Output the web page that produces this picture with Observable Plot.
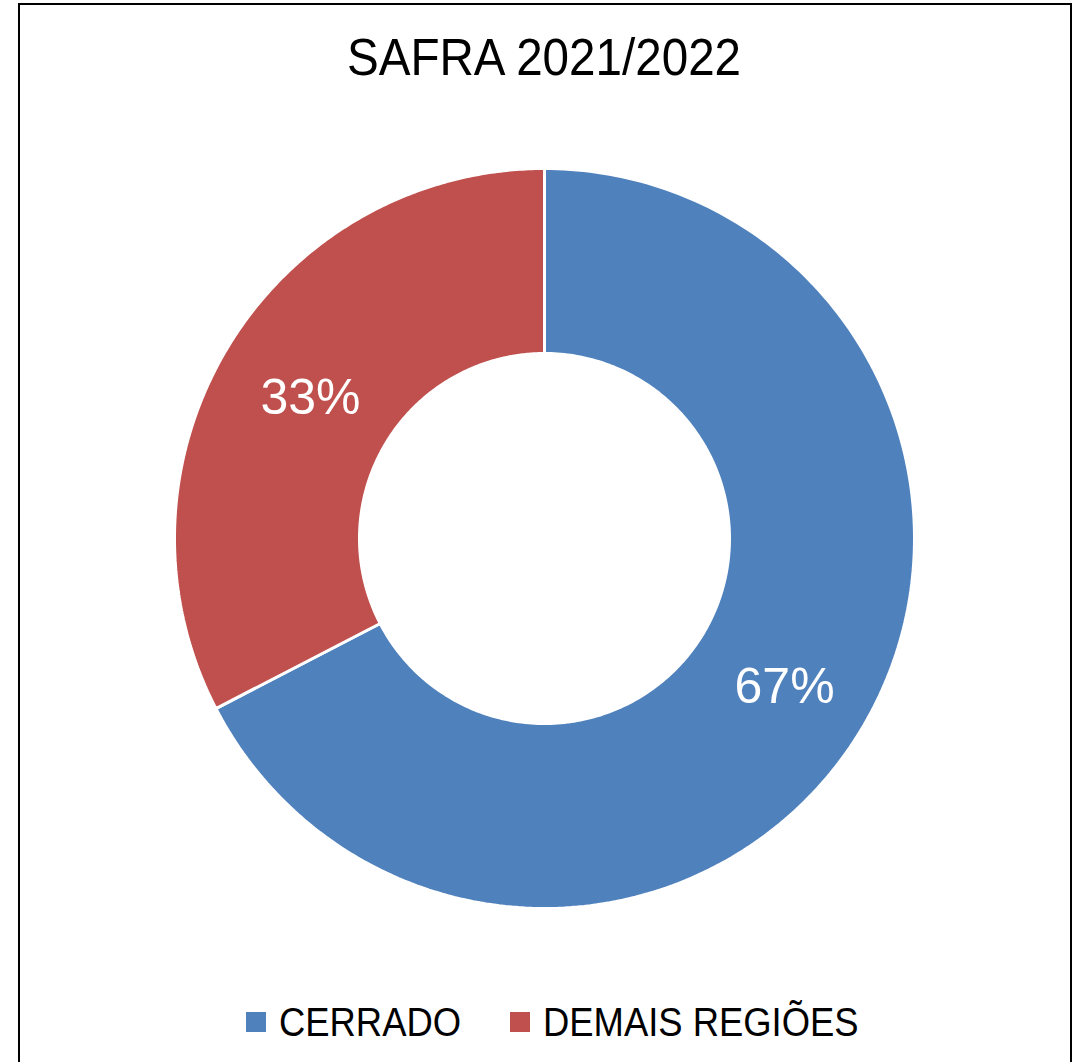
<!DOCTYPE html>
<html>
<head>
<meta charset="utf-8">
<script src="https://cdn.jsdelivr.net/npm/d3@7"></script>
<script src="https://cdn.jsdelivr.net/npm/@observablehq/plot@0.6"></script>
<style>
  html, body { margin: 0; padding: 0; background: #fff; width: 1078px; height: 1062px; overflow: hidden; }
  body { position: relative; font-family: "Liberation Sans", Arial, sans-serif; }
  #frame { position: absolute; left: 18px; top: 3px; width: 1050px; height: 1100px; border: 2px solid #000; box-sizing: content-box; }
  #title { position: absolute; left: 544px; top: 31px; font-size: 52px; line-height: 1; white-space: nowrap; color: #000;
           transform: translateX(-50%) scaleX(0.915); }
  #chart { position: absolute; left: 164px; top: 158px; }
  #legend { position: absolute; left: 246px; top: 1002px; display: flex; align-items: flex-start; }
  .item { display: flex; align-items: flex-start; margin-right: 49px; }
  .sw { width: 20px; height: 20px; margin-top: 10px; margin-right: 13px; }
  .lbl { font-size: 40px; line-height: 1; white-space: nowrap; transform-origin: left center; }
</style>
</head>
<body>
<div id="frame"></div>
<div id="title"></div>
<div id="chart"></div>
<div id="legend"></div>
<script>
const title = "SAFRA 2021/2022";
const categories = ["CERRADO", "DEMAIS REGIÕES"];
const values = [67.4, 32.6];
const colors = ["#4F81BD", "#C0504D"];

const outerR = 370, innerR = 185;
const arcs = d3.pie().sort(null).value(d => d)(values);
const pts = [];
const cents = [];
arcs.forEach((a, i) => {
  const n = 240, cat = categories[i];
  const poly = [];
  for (let k = 0; k <= n; k++) {
    const t = a.startAngle + (a.endAngle - a.startAngle) * k / n;
    poly.push({cat, x: outerR * Math.sin(t), y: outerR * Math.cos(t)});
  }
  for (let k = n; k >= 0; k--) {
    const t = a.startAngle + (a.endAngle - a.startAngle) * k / n;
    poly.push({cat, x: innerR * Math.sin(t), y: innerR * Math.cos(t)});
  }
  poly.push({...poly[0]});
  pts.push(...poly);
  const mid = (a.startAngle + a.endAngle) / 2, rm = (outerR + innerR) / 2;
  cents.push({cat, x: rm * Math.sin(mid), y: rm * Math.cos(mid), text: Math.round(100 * a.value / d3.sum(values)) + "%"});
});

const plot = Plot.plot({
  width: 760, height: 760,
  margin: 0,
  x: {domain: [-380, 380], axis: null},
  y: {domain: [-380, 380], axis: null},
  color: {domain: categories, range: colors},
  style: {background: "transparent", fontFamily: '"Liberation Sans", Arial, sans-serif'},
  marks: [
    Plot.line(pts, {x: "x", y: "y", z: "cat", fill: "cat", stroke: "white", strokeWidth: 3, strokeLinejoin: "miter", curve: "linear"}),
    Plot.text(cents, {x: "x", y: "y", text: "text", fill: "white", fontSize: 50, textAnchor: "middle", lineAnchor: "middle", dx: 3, dy: 4})
  ]
});
document.getElementById("chart").appendChild(plot);
document.getElementById("title").textContent = title;

const leg = document.getElementById("legend");
categories.forEach((c, i) => {
  const it = document.createElement("div"); it.className = "item";
  const sw = document.createElement("div"); sw.className = "sw"; sw.style.background = colors[i];
  const lb = document.createElement("div"); lb.className = "lbl"; lb.textContent = c;
  it.appendChild(sw); it.appendChild(lb); leg.appendChild(it);
  // compress horizontally to match reference glyph widths
  const w = lb.getBoundingClientRect().width;
  lb.style.transform = "scaleX(0.91)";
  lb.style.marginRight = (-w * 0.09) + "px";
});
</script>
</body>
</html>
